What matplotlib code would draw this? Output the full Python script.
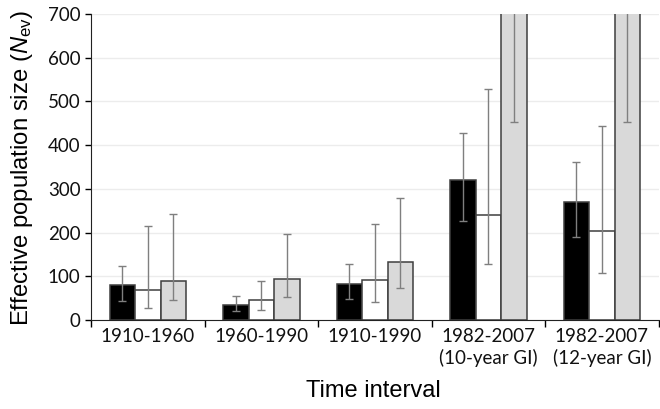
import numpy as np
import matplotlib.pyplot as plt

plt.rcParams['mathtext.fontset'] = 'custom'
plt.rcParams['mathtext.rm'] = 'Liberation Sans'
plt.rcParams['mathtext.it'] = 'Liberation Sans:italic'

categories = ['1910-1960', '1960-1990', '1910-1990', '1982-2007\n(10-year GI)', '1982-2007\n(12-year GI)']

# three estimates per interval (black, white, grey bars)
black_vals = [79, 35, 83, 320, 269]
black_lo = [43, 20, 48, 226, 190]
black_hi = [123, 55, 127, 428, 361]

white_vals = [69, 45, 92, 240, 203]
white_lo = [28, 22, 42, 127, 107]
white_hi = [216, 90, 219, 529, 444]

grey_vals = [90, 93, 133, 1500, 1500]
grey_lo = [45, 53, 74, 452, 452]
grey_hi = [243, 197, 278, 2500, 2500]

fig = plt.figure(figsize=(6.6, 4.09), dpi=100)
ax = fig.add_axes([0.138, 0.2176, 0.86, 0.7482])

x = np.arange(len(categories))
w = 0.225
series = [
    (black_vals, black_lo, black_hi, 'black', -w),
    (white_vals, white_lo, white_hi, 'white', 0),
    (grey_vals, grey_lo, grey_hi, '#d9d9d9', w),
]
for vals, lo, hi, col, off in series:
    vals = np.array(vals)
    yerr = [vals - np.array(lo), np.array(hi) - vals]
    ax.bar(x + off, vals, width=w, color=col, edgecolor='#3f3f3f', linewidth=1.1, zorder=2)
    ax.errorbar(x + off, vals, yerr=yerr, fmt='none', ecolor='#7f7f7f',
                elinewidth=1.0, capsize=3, capthick=1.0, zorder=3)

ax.set_ylim(0, 700)
ax.set_xlim(-0.5, len(categories) - 0.5)
ax.set_yticks(range(0, 701, 100))
ax.yaxis.grid(True, color='#ececec', linewidth=1)
ax.set_axisbelow(True)

ax.set_xticks(np.arange(-0.5, len(categories)), labels=[''] * (len(categories) + 1))
ax.set_xticks(x, labels=categories, minor=True)
ax.tick_params(axis='x', which='major', length=5, width=1, direction='out')
ax.tick_params(axis='x', which='minor', length=0, pad=6)
ax.tick_params(axis='y', length=4, width=1, direction='out')
for lbl in ax.get_xticklabels(minor=True) + ax.get_yticklabels():
    lbl.set_family('Lato')
    lbl.set_fontsize(13.5)
    lbl.set_color('#111111')
for lbl in ax.get_xticklabels(minor=True):
    lbl.set_linespacing(1.25)

for s in ['top', 'right']:
    ax.spines[s].set_visible(False)
ax.spines['left'].set_color('#222222')
ax.spines['bottom'].set_color('#222222')

fig.text(22 / 660, 1 - 168 / 409, r'Effective population size ($\mathit{N}_{\mathrm{ev}}$)',
         family='Liberation Sans', fontsize=17.2, rotation=90, ha='center', va='center')
fig.text(373 / 660, 1 - 391 / 409, 'Time interval',
         family='Liberation Sans', fontsize=17, ha='center', va='center')

fig.savefig('out.png', dpi=100)
